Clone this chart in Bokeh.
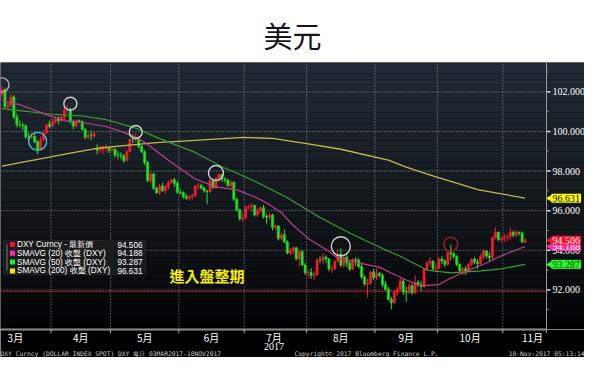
import numpy as np
import pandas as pd
from bokeh.plotting import figure
from bokeh.layouts import column
from bokeh.models import Range1d, Label, Span, BoxAnnotation, ColumnDataSource
from bokeh.core.properties import value
from bokeh.embed import file_html
from bokeh.resources import INLINE

# ---------------------------------------------------------------- data
TITLE = "美元"
FIRST_DAY = "2017-03-03"          # first day of the Bloomberg range (03MAR2017)
dates = pd.bdate_range("2017-03-09", "2017-11-10")

opens = [
    # Mar
    101.86, 102.10, 101.25, 101.30, 101.74, 100.72, 100.34, 100.32, 100.29, 99.72, 99.70, 99.75, 99.48, 99.09, 99.58, 99.92, 100.38,
    # Apr
    100.25, 100.48, 100.61, 100.54, 100.71, 101.08, 101.12, 100.47, 100.27, 100.54, 100.51, 100.10, 99.71, 99.79, 99.78, 99.10, 99.05, 99.07, 99.17, 99.18,
    # May
    99.05, 99.10, 98.81, 98.80, 98.78, 98.53, 98.98, 99.59, 99.58, 99.70, 99.24, 98.97, 98.43, 97.51, 97.85, 97.13, 96.91, 97.24, 97.01, 97.23, 97.43, 97.56, 97.37,
    # Jun
    96.93, 96.92, 96.71, 96.63, 96.70, 96.75, 97.24, 97.27, 97.15, 96.99, 96.97, 97.51, 97.16, 97.64, 97.84, 97.59, 97.55, 97.27, 97.44, 96.58, 96.04, 95.59,
    # Jul
    95.63, 96.18, 96.22, 96.26, 95.78, 96.01, 96.15, 95.71, 95.67, 95.78, 95.15, 95.23, 94.60, 94.78, 94.43, 93.86, 94.02, 94.13, 93.57, 93.93, 93.26,
    # Aug
    92.86, 92.87, 92.72, 92.77, 93.51, 93.50, 93.66, 93.56, 93.05, 93.06, 93.44, 93.80, 93.25, 93.65, 93.36, 93.05, 93.53, 93.50, 93.18, 92.65, 92.30, 92.36, 92.89,
    # Sep
    92.62, 92.83, 92.73, 92.27, 92.03, 91.52, 91.35, 91.86, 92.04, 92.45, 91.90, 91.87, 92.21, 91.87, 92.38, 92.26, 92.17, 93.04, 93.36, 93.45, 93.07,
    # Oct
    93.08, 93.56, 93.46, 93.29, 93.88, 93.82, 93.69, 93.28, 92.98, 93.07, 92.94, 93.29, 93.55, 93.40, 93.33, 93.68, 93.96, 93.71, 93.64, 94.64, 94.91, 94.55,
    # Nov
    94.60, 94.67, 94.69, 94.91, 94.77, 94.91, 94.87, 94.42,
]
highs = [
    102.26, 102.18, 101.45, 101.86, 101.82, 100.90, 100.55, 100.45, 100.35, 99.94, 99.92, 99.95, 99.55, 99.75, 100.05, 100.40, 100.55,
    100.62, 100.75, 100.78, 100.82, 101.20, 101.34, 101.20, 100.60, 100.62, 100.60, 100.55, 100.15, 99.95, 100.05, 100.00, 99.35, 99.30, 99.30, 99.35, 99.20,
    99.20, 99.15, 99.05, 98.95, 98.85, 99.05, 99.65, 99.88, 99.90, 99.75, 99.30, 99.05, 98.50, 97.95, 97.90, 97.20, 97.35, 97.40, 97.30, 97.50, 97.60, 97.65, 97.50,
    97.10, 96.98, 96.85, 96.80, 96.85, 97.30, 97.40, 97.35, 97.20, 97.05, 97.60, 97.55, 97.70, 97.87, 97.85, 97.70, 97.60, 97.55, 97.45, 96.65, 96.10, 95.90,
    96.25, 96.30, 96.40, 96.30, 96.15, 96.20, 96.30, 95.85, 95.90, 95.85, 95.30, 95.25, 94.90, 95.05, 94.50, 94.10, 94.20, 94.15, 94.05, 94.00, 93.35,
    93.05, 93.10, 92.95, 93.60, 93.70, 93.85, 93.75, 93.60, 93.25, 93.50, 94.05, 94.10, 93.75, 93.75, 93.45, 93.60, 93.65, 93.60, 93.35, 92.75, 92.55, 92.95, 93.05,
    93.10, 92.90, 92.85, 92.45, 92.15, 91.65, 92.00, 92.15, 92.60, 92.55, 92.15, 92.35, 92.30, 92.75, 92.50, 92.45, 93.10, 93.45, 93.65, 93.50, 93.35,
    93.65, 93.70, 93.55, 93.95, 94.27, 93.90, 93.75, 93.35, 93.15, 93.20, 93.35, 93.60, 93.65, 93.55, 93.80, 94.05, 94.00, 93.90, 94.70, 95.15, 94.95, 94.70,
    94.85, 94.80, 95.15, 95.00, 95.05, 94.95, 94.95, 94.60,
]
lows = [
    101.72, 101.18, 101.10, 101.22, 100.62, 100.20, 100.20, 100.05, 99.63, 99.58, 99.60, 99.40, 98.85, 99.02, 99.50, 99.85, 100.15,
    100.20, 100.40, 100.35, 100.45, 100.55, 100.95, 100.40, 100.10, 100.20, 100.45, 100.05, 99.60, 99.60, 99.55, 99.65, 98.85, 98.90, 98.85, 98.95, 98.90,
    98.95, 98.70, 98.60, 98.60, 98.40, 98.50, 98.95, 99.40, 99.45, 99.15, 98.90, 98.30, 97.45, 97.40, 97.05, 96.85, 96.80, 96.95, 96.85, 97.05, 97.35, 97.20, 96.85,
    96.80, 96.60, 96.55, 96.50, 96.55, 96.70, 97.05, 97.05, 96.90, 96.32, 96.90, 97.10, 97.10, 97.45, 97.45, 97.40, 97.20, 97.15, 96.50, 95.95, 95.50, 95.45,
    95.55, 96.05, 95.95, 95.70, 95.70, 95.90, 95.60, 95.35, 95.55, 95.00, 95.00, 94.50, 94.50, 94.35, 93.80, 93.75, 93.80, 93.50, 93.20, 93.20, 92.75,
    92.60, 92.55, 92.50, 92.70, 93.35, 93.30, 93.35, 92.95, 92.85, 93.00, 93.40, 93.15, 93.10, 93.15, 92.95, 93.00, 93.20, 93.10, 92.55, 92.20, 91.62, 92.25, 92.50,
    92.50, 92.65, 92.15, 91.95, 91.45, 91.01, 91.30, 91.70, 91.95, 91.75, 91.40, 91.80, 91.75, 91.80, 92.15, 91.95, 92.10, 92.95, 93.20, 92.95, 92.90,
    93.05, 93.30, 93.15, 93.20, 93.50, 93.60, 93.20, 92.90, 92.75, 92.75, 92.90, 93.20, 93.30, 93.05, 93.30, 93.55, 93.60, 93.45, 93.55, 94.55, 94.45, 94.40,
    94.40, 94.45, 94.50, 94.65, 94.65, 94.75, 94.35, 94.35,
]
closes = [
    102.10, 101.25, 101.30, 101.74, 100.72, 100.34, 100.32, 100.29, 99.72, 99.70, 99.75, 99.48, 99.09, 99.58, 99.92, 100.33, 100.25,
    100.48, 100.61, 100.54, 100.71, 101.08, 101.12, 100.47, 100.27, 100.54, 100.51, 100.10, 99.71, 99.79, 99.78, 99.90, 99.05, 99.07, 99.17, 99.18, 99.05,
    99.10, 98.81, 98.80, 98.78, 98.53, 98.98, 99.59, 99.58, 99.70, 99.24, 98.97, 98.43, 97.51, 97.85, 97.13, 96.91, 97.24, 97.01, 97.23, 97.43, 97.56, 97.37, 96.93,
    96.92, 96.71, 96.63, 96.70, 96.75, 97.24, 97.27, 97.15, 96.99, 96.97, 97.51, 97.16, 97.64, 97.84, 97.59, 97.55, 97.27, 97.44, 96.58, 96.04, 95.59, 95.63,
    96.18, 96.22, 96.26, 95.78, 96.01, 96.15, 95.71, 95.67, 95.78, 95.15, 95.23, 94.60, 94.78, 94.43, 93.86, 94.02, 94.13, 93.57, 93.93, 93.26, 92.86,
    92.87, 92.72, 92.77, 93.51, 93.50, 93.66, 93.56, 93.05, 93.06, 93.44, 93.80, 93.25, 93.65, 93.36, 93.05, 93.53, 93.50, 93.18, 92.65, 92.30, 92.36, 92.89, 92.62,
    92.83, 92.73, 92.27, 92.03, 91.52, 91.35, 91.86, 92.04, 92.45, 91.90, 91.87, 92.21, 91.87, 92.38, 92.26, 92.17, 93.04, 93.36, 93.45, 93.07, 93.08,
    93.56, 93.46, 93.29, 93.88, 93.82, 93.69, 93.28, 92.98, 93.07, 92.94, 93.29, 93.55, 93.40, 93.33, 93.68, 93.96, 93.71, 93.64, 94.64, 94.91, 94.55, 94.60,
    94.67, 94.69, 94.91, 94.77, 94.91, 94.87, 94.42, 94.506,
]

# moving averages at sample dates
sma20_dates = ["2017-03-09", "2017-03-17", "2017-03-31", "2017-04-07", "2017-04-17", "2017-04-27",
               "2017-05-04", "2017-05-11", "2017-05-16", "2017-05-26", "2017-06-08", "2017-06-19",
               "2017-06-28", "2017-07-06", "2017-07-12", "2017-07-19", "2017-07-25", "2017-08-01",
               "2017-08-10", "2017-08-15", "2017-08-22", "2017-08-29", "2017-09-04", "2017-09-08",
               "2017-09-15", "2017-09-22", "2017-10-02", "2017-10-06", "2017-10-16", "2017-10-24",
               "2017-10-31", "2017-11-10"]
sma20 = [101.55, 101.35, 100.80, 100.55, 100.45, 100.25, 100.00, 99.70, 99.45, 98.55, 97.60, 97.20,
         97.05, 96.70, 96.40, 95.90, 95.25, 94.60, 93.95, 93.60, 93.45, 93.26, 93.15, 92.85,
         92.50, 92.20, 92.27, 92.60, 93.00, 93.36, 93.72, 94.188]

sma50_dates = ["2017-03-09", "2017-03-17", "2017-03-31", "2017-04-17", "2017-04-27", "2017-05-11",
               "2017-05-22", "2017-06-08", "2017-06-21", "2017-07-06", "2017-07-21", "2017-08-07",
               "2017-08-22", "2017-09-07", "2017-09-13", "2017-09-26", "2017-10-06", "2017-10-20",
               "2017-10-31", "2017-11-10"]
sma50 = [101.15, 101.05, 100.88, 100.78, 100.60, 100.17, 99.70, 98.94, 98.22, 97.50, 96.65, 95.65,
         94.80, 93.95, 93.70, 93.00, 92.86, 92.96, 93.06, 93.287]

sma200_dates = ["2017-03-09", "2017-03-20", "2017-03-31", "2017-04-11", "2017-04-24", "2017-05-08",
                "2017-05-22", "2017-06-08", "2017-06-30", "2017-07-14", "2017-07-31", "2017-08-16",
                "2017-09-07", "2017-09-15", "2017-09-29", "2017-10-13", "2017-10-19", "2017-11-01",
                "2017-11-10"]
sma200 = [98.25, 98.45, 98.70, 98.90, 99.15, 99.30, 99.43, 99.55, 99.70, 99.65, 99.40, 99.10,
          98.55, 98.20, 97.70, 97.25, 97.06, 96.82, 96.631]

support_level = 91.92

# hand-drawn circles on the chart
circle_dates = ["2017-03-09", "2017-03-27", "2017-04-11", "2017-05-11", "2017-06-19", "2017-08-16", "2017-10-06"]
circle_values = [102.35, 99.50, 101.40, 99.97, 97.90, 94.20, 94.30]
circle_colors = ["#b4a6c6", "#3cc4d4", "#d0d0d0", "#d0d0d0", "#d0d0d0", "#d0d0d0", "#a8201e"]
circle_sizes = [14, 18, 13, 13, 15, 19, 14]

note_text = "進入盤整期"
note_date, note_value = "2017-06-14", 92.72

month_labels = ["3月", "4月", "5月", "6月", "7月", "8月", "9月", "10月", "11月"]
month_label_pos = [8.5, 30.5, 52.0, 74.5, 95.5, 118.0, 140.0, 161.5, 182.5]
year_label, year_label_pos = "2017", 95.5
month_starts = ["2017-04-01", "2017-05-01", "2017-06-01", "2017-07-01", "2017-08-01",
                "2017-09-01", "2017-10-01", "2017-11-01"]
y_ticks = [92, 94, 96, 98, 100, 102]
y_minor = [91, 93, 95, 97, 99, 101, 103]

legend_names = ["DXY Curncy - 最新價", "SMAVG (20) 收盤 (DXY)", "SMAVG (50) 收盤 (DXY)", "SMAVG (200) 收盤 (DXY)"]
footer_left = "DXY Curncy (DOLLAR INDEX SPOT) DXY  每日 03MAR2017-10NOV2017"
footer_mid = "Copyright© 2017 Bloomberg Finance L.P."
footer_right = "10-Nov-2017 05:13:14"

# ---------------------------------------------------------------- styles / layout
RED, GREEN = "#ff1830", "#1ee61e"
C20, C50, C200 = "#c23e8c", "#3e9e2e", "#c4ba4a"
TAG_RED, TAG_PINK, TAG_GREEN, TAG_YELLOW = "#ff0a28", "#ff2aa8", "#22ff22", "#ffff00"
CJK = "Noto Sans CJK TC"
W, H_TITLE, H_MAIN, H_BOT = 584, 62, 267, 28
CHART_W = 546                      # width of the price area; the rest holds the price scale
X0, X_AXIS = 3.5, 187.2            # visible day range of the price area
XR = X0 + (X_AXIS - X0) * W / CHART_W
PX = (XR - X0) / W                 # one screen pixel in day units
Y0, Y1 = 90.0, 103.48
GRID = "#8a9098"
AXIS = "#9a9a9a"


def day_index(d):
    """Weekday position counted from FIRST_DAY (one candle per weekday)."""
    idx = pd.to_datetime(pd.Index(np.atleast_1d(d)))
    days = np.array(idx.strftime("%Y-%m-%d").tolist(), dtype="datetime64[D]")
    out = np.busday_count(np.datetime64(FIRST_DAY), days)
    return out if np.ndim(d) else int(out[0])


def bare(fig, fill):
    fig.axis.visible = False
    fig.grid.visible = False
    fig.outline_line_color = None
    fig.background_fill_color = fill
    fig.border_fill_color = fill


# ---------------------------------------------------------------- title
tp = figure(width=W, height=H_TITLE, x_range=Range1d(0, 1), y_range=Range1d(0, 1),
            toolbar_location=None, output_backend="svg", min_border=0)
bare(tp, "white")
tp.add_layout(Label(x=0.5, y=0.45, text=TITLE, text_align="center", text_baseline="middle",
                    text_font=CJK, text_font_size="29px", text_color="#151515"))

# ---------------------------------------------------------------- chart
p = figure(width=W, height=H_MAIN, x_range=Range1d(X0, XR), y_range=Range1d(Y0, Y1),
           x_axis_location=None, y_axis_location=None, toolbar_location=None, output_backend="svg",
           min_border=0)
bare(p, "black")

# background gradient
nb = 48
edges = np.linspace(Y0, Y1, nb + 1)
top_c, bot_c = np.array([0x22, 0x2b, 0x35]), np.array([0x00, 0x00, 0x00])
fr = (np.arange(nb) + 0.5) / nb
cols = ["#%02x%02x%02x" % tuple((bot_c + (top_c - bot_c) * f ** 0.75).astype(int)) for f in fr]
p.quad(left=X0, right=XR, bottom=edges[:-1], top=edges[1:], fill_color=cols, line_color=None, level="image")

# dotted grid: month boundaries and price levels
month_bounds = [float(day_index(m)) - 0.5 for m in month_starts]
p.segment(x0=month_bounds, x1=month_bounds, y0=Y0, y1=Y1, line_color=GRID, line_dash="1 2", level="underlay")
p.segment(x0=X0, x1=X_AXIS, y0=y_ticks, y1=y_ticks, line_color=GRID, line_dash="1 2", level="underlay")
p.segment(x0=X0, x1=X_AXIS, y0=support_level, y1=support_level, line_color="#a01818", line_width=1,
          level="underlay")

# candles
df = pd.DataFrame(dict(open=opens, high=highs, low=lows, close=closes))
assert len(df) == len(dates)
df["x"] = day_index(dates)
df["color"] = np.where(df.close >= df.open, RED, GREEN)
df["top"] = df[["open", "close"]].max(axis=1)
df["bottom"] = df[["open", "close"]].min(axis=1)
src = ColumnDataSource(df)
p.segment(x0="x", y0="high", x1="x", y1="low", line_color="color", line_width=1, source=src)
p.vbar(x="x", width=0.7, top="top", bottom="bottom", fill_color="color", line_color="color",
       line_width=0.6, source=src)

# moving averages
p.line(day_index(sma200_dates), sma200, line_color=C200, line_width=1.3)
p.line(day_index(sma50_dates), sma50, line_color=C50, line_width=1.2)
p.line(day_index(sma20_dates), sma20, line_color=C20, line_width=1.2)

# circles drawn on the chart
p.scatter(day_index(circle_dates), circle_values, marker="circle", size=circle_sizes,
          fill_color=None, line_color=circle_colors, line_width=1.4)

p.add_layout(Label(x=float(day_index(note_date)), y=note_value, text=note_text, text_align="center",
                   text_baseline="middle", text_font=CJK, text_font_size="15px",
                   text_font_style="bold", text_color="#f4ec10"))

# price scale on the right
p.add_layout(Span(location=X_AXIS, dimension="height", line_color=AXIS, line_width=1))
p.segment(x0=X0, x1=X_AXIS, y0=Y0, y1=Y0, line_color=AXIS, line_width=2)
p.ray(x=X_AXIS, y=y_ticks, length=4, length_units="screen", angle=0, line_color="#e0e0e0", line_width=1.5)
p.ray(x=X_AXIS, y=y_minor, length=2, length_units="screen", angle=0, line_color=AXIS, line_width=1)
p.text(x=X_AXIS, y=y_ticks, text=["%.3f" % t for t in y_ticks], x_offset=6, text_baseline="middle",
       text_align="left", text_color="white", text_font=value("Liberation Serif"), text_font_size="10px")

tags = [(sma200[-1], TAG_YELLOW, "black"), (sma20[-1], TAG_PINK, "white"),
        (sma50[-1], TAG_GREEN, "#0a3a0a"), (closes[-1], TAG_RED, "white")]
p.scatter(x=[X_AXIS + 4 * PX] * len(tags), y=[t[0] for t in tags], marker="triangle", angle=np.pi / 2,
          size=8, fill_color=[t[1] for t in tags], line_color=None)
for val, col, tcol in tags:
    p.add_layout(Label(x=X_AXIS, y=val, x_offset=5, text="%.3f" % val,
                       text_align="left", text_baseline="middle", text_color=tcol,
                       text_font="Liberation Serif", text_font_size="10px",
                       background_fill_color=col, padding=1))

# legend box
p.add_layout(BoxAnnotation(left=3, right=145, bottom=55, top=89,
                           left_units="screen", right_units="screen", bottom_units="screen", top_units="screen",
                           fill_color="#1c1c1e", fill_alpha=0.92, line_color="#4a4a4a", line_width=1,
                           level="annotation"))
p.add_layout(BoxAnnotation(left=6, right=7, bottom=59, top=85, left_units="screen", right_units="screen",
                           bottom_units="screen", top_units="screen", fill_color="#7a7a7a", fill_alpha=1,
                           line_color=None, level="annotation"))
leg_vals = [closes[-1], sma20[-1], sma50[-1], sma200[-1]]
leg_cols = [TAG_RED, TAG_PINK, "#22ee22", "#eeee00"]
for k, (name, v, c) in enumerate(zip(legend_names, leg_vals, leg_cols)):
    ry = 85 - k * 8.8
    p.add_layout(BoxAnnotation(left=9.5, right=14.5, bottom=ry - 2.5, top=ry + 2.5, left_units="screen",
                               right_units="screen", bottom_units="screen", top_units="screen",
                               fill_color=c, fill_alpha=1, line_color=None, level="annotation"))
    p.add_layout(Label(x=16.5, y=ry, x_units="screen", y_units="screen", text=name, text_align="left",
                       text_baseline="middle", text_color="white", text_font="Liberation Sans",
                       text_font_size="8.2px"))
    p.add_layout(Label(x=142, y=ry, x_units="screen", y_units="screen", text="%.3f" % v, text_align="right",
                       text_baseline="middle", text_color="white", text_font="Liberation Sans",
                       text_font_size="8.2px"))

# ---------------------------------------------------------------- date scale + footer
bp = figure(width=W, height=H_BOT, x_range=p.x_range, y_range=Range1d(H_BOT, 0),
            toolbar_location=None, output_backend="svg", min_border=0)
bare(bp, "black")
bp.segment(x0=X0, x1=X_AXIS, y0=0.5, y1=0.5, line_color=AXIS, line_width=1)
bp.segment(x0=month_bounds, x1=month_bounds, y0=0, y1=3.5, line_color="#b8b8b8", line_width=1)
bp.segment(x0=X_AXIS, x1=X_AXIS, y0=0, y1=3.5, line_color=AXIS, line_width=1)
bp.text(x=month_label_pos, y=8, text=month_labels, text_align="center", text_baseline="middle",
        text_color="white", text_font=value(CJK), text_font_size="10px")
bp.text(x=[year_label_pos], y=[16.5], text=[year_label], text_align="center", text_baseline="middle",
        text_color="white", text_font=value("Liberation Serif"), text_font_size="10px")
for txt, xx, al in [(footer_left, 0, "left"), (footer_mid, 294, "left"), (footer_right, W, "right")]:
    bp.add_layout(Label(x=xx, y=23.5, x_units="screen", text=txt, text_align=al, text_baseline="middle",
                        text_color="#c8c8c8", text_font="DejaVu Sans Mono", text_font_size="6.3px"))

layout = column(tp, p, bp, spacing=0)
open("out.html", "w").write(file_html(layout, INLINE))
